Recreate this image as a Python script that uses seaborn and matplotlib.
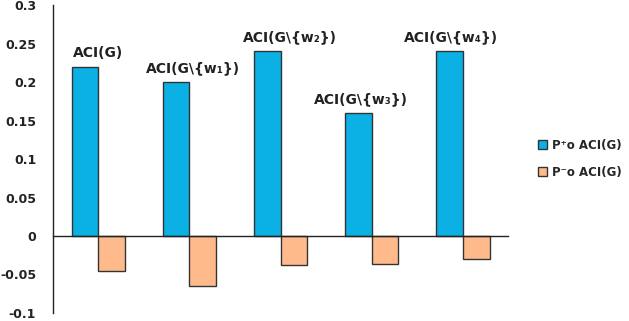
import matplotlib
matplotlib.use("Agg")
import matplotlib.pyplot as plt
from matplotlib.patches import Patch
from matplotlib.ticker import FixedLocator
import seaborn as sns
import pandas as pd

# -------------------------
# data
# -------------------------
groups = ["ACI(G)", "ACI(G\\{w\u2081})", "ACI(G\\{w\u2082})", "ACI(G\\{w\u2083})", "ACI(G\\{w\u2084})"]
series = ["P\u207ao ACI(G)", "P\u207bo ACI(G)"]
p_plus = [0.22, 0.20, 0.24, 0.16, 0.24]
p_minus = [-0.046, -0.065, -0.038, -0.037, -0.030]
yticks = [-0.1, -0.05, 0, 0.05, 0.1, 0.15, 0.2, 0.25, 0.3]
ytick_labels = ["-0.1", "-0.05", "0", "0.05", "0.1", "0.15", "0.2", "0.25", "0.3"]

colors = ["#0BB0E4", "#FFBA8C"]

df = pd.DataFrame({
    "group": groups * 2,
    "series": [series[0]] * len(groups) + [series[1]] * len(groups),
    "value": p_plus + p_minus,
})

sns.set_style("white")
plt.rcParams["font.family"] = ["DejaVu Sans"]

fig = plt.figure(figsize=(6.29, 3.21), dpi=100)
ax = fig.add_axes([0.084, 0.025, 0.724, 0.959])

sns.barplot(data=df, x="group", y="value", hue="series", palette=colors, saturation=1,
            width=0.59, edgecolor="#333333", linewidth=1.0, legend=False, ax=ax)

ax.set_xlim(-0.5, 4.5)
ax.set_ylim(-0.1, 0.3)
ax.set_yticks(yticks)
ax.set_yticklabels(ytick_labels, fontsize=9, fontweight="bold", color="#222222")
ax.set_xlabel("")
ax.set_ylabel("")

# x axis sits on zero, ticks on the category boundaries
ax.spines["top"].set_visible(False)
ax.spines["right"].set_visible(False)
ax.spines["bottom"].set_position(("data", 0))
for s in ("left", "bottom"):
    ax.spines[s].set_color("#222222")
    ax.spines[s].set_linewidth(1.0)
ax.set_xticks([])
ax.xaxis.set_minor_locator(FixedLocator([0.5, 1.5, 2.5, 3.5, 4.5]))
ax.tick_params(axis="x", which="minor", direction="out", length=4, color="#222222")
ax.tick_params(axis="y", direction="out", length=4, color="#222222", pad=8)

# group labels above the blue bars
label_shift = [0.0, 0.04, 0.1, -0.12, -0.13]
for i, (name, v) in enumerate(zip(groups, p_plus)):
    ax.annotate(name, (i + label_shift[i], v), xytext=(0, 5), textcoords="offset points",
                ha="center", va="bottom", fontsize=10, fontweight="bold", color="#222222")

handles = [Patch(facecolor=c, edgecolor="#333333", label=s) for c, s in zip(colors, series)]
fig.legend(handles=handles, loc="center left", bbox_to_anchor=(0.846, 0.505),
           frameon=False, handlelength=0.8, handleheight=0.8, handletextpad=0.4,
           labelspacing=1.2, borderpad=0, prop={"size": 8.5, "weight": "bold"})

fig.savefig("out.png", dpi=100)
